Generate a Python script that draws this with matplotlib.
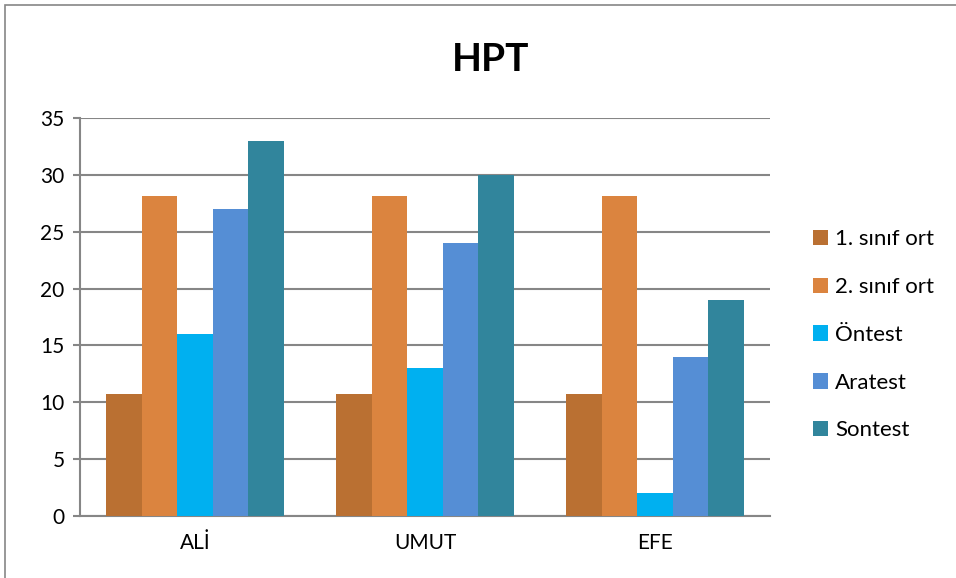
import matplotlib
matplotlib.use("Agg")
import matplotlib.pyplot as plt
import numpy as np
from matplotlib.patches import Rectangle

students = ["ALİ", "UMUT", "EFE"]
series = ["1. sınıf ort", "2. sınıf ort", "Öntest", "Aratest", "Sontest"]
sinif1 = [10.7, 10.7, 10.7]
sinif2 = [28.1, 28.1, 28.1]
ontest = [16, 13, 2]
aratest = [27, 24, 14]
sontest = [33, 30, 19]
colors = ["#BA7032", "#DB843F", "#00B0F0", "#558ED5", "#31859C"]

plt.rcParams['font.family'] = ['Lato', 'DejaVu Sans']

fig = plt.figure(figsize=(9.56, 5.78), dpi=100)
ax = fig.add_axes([0.0837, 0.1073, 0.7218, 0.6886])

values = [sinif1, sinif2, ontest, aratest, sontest]
x = np.arange(len(students))
w = 0.154
for i, (name, vals) in enumerate(zip(series, values)):
    ax.bar(x + (i - 2) * w, vals, w, color=colors[i], label=name, zorder=3)

ax.set_xlim(-0.5, 2.5)
ax.set_ylim(0, 35)
ax.set_yticks(range(0, 36, 5))
ax.set_xticks(x)
ax.set_xticklabels(students)
ax.grid(axis='y', color='#868686', linewidth=1.5, zorder=0)
for s in ['top', 'right']:
    ax.spines[s].set_visible(False)
ax.spines['left'].set_color('#868686')
ax.spines['left'].set_linewidth(1.5)
ax.spines['bottom'].set_color('#868686')
ax.spines['bottom'].set_linewidth(1.5)
ax.tick_params(axis='y', length=5, color='#868686', width=1.5, labelsize=15, pad=6)
ax.tick_params(axis='x', length=0, labelsize=15, pad=12)

fig.text(0.513, 0.897, "HPT", ha='center', va='center', fontsize=28, fontweight='bold')

ax.legend(loc='center left', bbox_to_anchor=(1.033, 0.455), frameon=False,
          fontsize=16, handlelength=0.7, handleheight=0.7, handletextpad=0.3,
          labelspacing=1.25)

fig.patches.append(Rectangle((5 / 956, -0.1), 1.2, 1.1 - 5 / 578, transform=fig.transFigure,
                             fill=False, edgecolor='#868686', linewidth=1.2))

fig.savefig("out.png", dpi=100)
